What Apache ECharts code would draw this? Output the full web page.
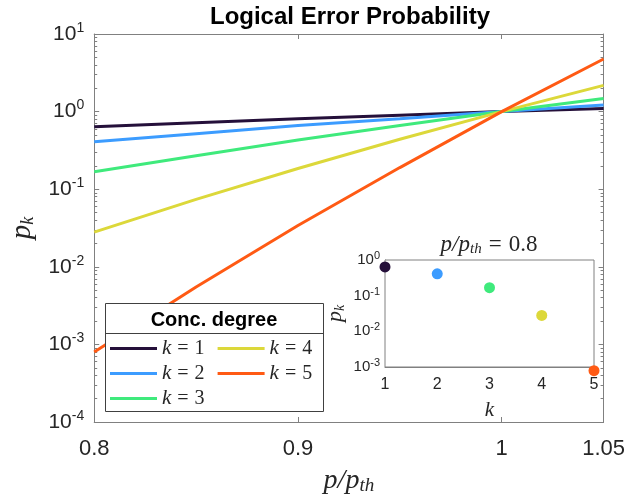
<!DOCTYPE html>
<html>
<head>
<meta charset="utf-8">
<script src="https://cdn.jsdelivr.net/npm/echarts@6/dist/echarts.min.js"></script>
<style>
html, body { margin: 0; padding: 0; background: #fff; }
#chart { width: 628px; height: 500px; }
</style>
</head>
<body>
<div id="chart"></div>
<script>
// ---- data ----
var ratio = [0.8, 0.85, 0.9, 0.95, 1.0, 1.05];
var pk1 = [0.64, 0.72, 0.81, 0.90, 1.0, 1.10];
var pk2 = [0.41, 0.52, 0.66, 0.81, 1.0, 1.22];
var pk3 = [0.168, 0.27, 0.43, 0.66, 1.0, 1.48];
var pk4 = [0.028, 0.074, 0.185, 0.44, 1.0, 2.18];
var pk5 = [0.0008, 0.0055, 0.034, 0.19, 1.0, 4.76];
var seriesNames = ['k = 1', 'k = 2', 'k = 3', 'k = 4', 'k = 5'];
var lineColors = ['#25103a', '#3c9cff', '#3fea7c', '#dcd83a', '#ff5a14'];

// inset: p_k at p/p_th = 0.8
var insetK = [1, 2, 3, 4, 5];
var insetP = [0.64, 0.41, 0.168, 0.028, 0.00079];

var axisGray = '#808080';
var labelColor = '#262626';
var serif = '"Liberation Serif", "DejaVu Serif", serif';
var sans = '"Liberation Sans", Arial, sans-serif';

function pow10(v) {
    var e = Math.round(Math.log10(v));
    return '{b|10}{e|' + (e < 0 ? '-' + (-e) : e) + '}';
}

var chart = echarts.init(document.getElementById('chart'));

function pairs(ys) {
    return ratio.map(function(x, i) { return [x, ys[i]]; });
}

var allPk = [pk1, pk2, pk3, pk4, pk5];
var series = allPk.map(function(ys, i) {
    return {
        name: seriesNames[i],
        type: 'line',
        xAxisIndex: 0,
        yAxisIndex: 0,
        data: pairs(ys),
        symbol: 'none',
        lineStyle: { width: 3, color: lineColors[i] },
        itemStyle: { color: lineColors[i] },
        z: 2
    };
});

series.push({
    name: 'inset',
    type: 'scatter',
    xAxisIndex: 2,
    yAxisIndex: 2,
    clip: false,
    symbolSize: 11,
    data: insetK.map(function(k, i) {
        return { value: [k, insetP[i]], itemStyle: { color: lineColors[i], opacity: 1 } };
    }),
    z: 6
});

var mainYRich = {
    b: { fontSize: 21, color: labelColor, fontFamily: sans },
    e: { fontSize: 14, color: labelColor, fontFamily: sans, verticalAlign: 'top', padding: [0, 0, 12, 0] }
};
var insetYRich = {
    b: { fontSize: 15, color: labelColor, fontFamily: sans },
    e: { fontSize: 11, color: labelColor, fontFamily: sans, verticalAlign: 'top', padding: [0, 0, 8, 0] }
};

var option = {
    backgroundColor: '#fff',
    animation: false,
    grid: [
        { left: 92, right: 21, top: 34, bottom: 76 },
        { left: 385, top: 260, width: 209, height: 107, show: true, backgroundColor: '#fff', borderColor: axisGray, borderWidth: 1, z: 5 }
    ],
    xAxis: [
        {
            type: 'value', gridIndex: 0, min: 0.8, max: 1.05, interval: 0.1,
            position: 'bottom',
            name: '{i|p}{i|/}{i|p}{s|th}',
            nameLocation: 'middle', nameGap: 44,
            nameTextStyle: {
                rich: {
                    i: { fontSize: 28, fontStyle: 'italic', fontFamily: serif, color: labelColor },
                    s: { fontSize: 19, fontStyle: 'italic', fontFamily: serif, color: labelColor, verticalAlign: 'bottom', padding: [10, 0, 0, 0] }
                }
            },
            axisLine: { lineStyle: { color: axisGray } },
            axisTick: { inside: true, length: 5, lineStyle: { color: axisGray } },
            axisLabel: { fontSize: 22, color: labelColor, fontFamily: sans, margin: 16,
                formatter: function(v) { return String(Math.round(v * 100) / 100); } },
            splitLine: { show: false }
        },
        {
            type: 'value', gridIndex: 0, min: 0.8, max: 1.05, interval: 0.1,
            position: 'top',
            axisLine: { lineStyle: { color: axisGray } },
            axisTick: { inside: true, length: 5, lineStyle: { color: axisGray } },
            axisLabel: { show: false },
            splitLine: { show: false }
        },
        {
            type: 'value', gridIndex: 1, min: 1, max: 5, interval: 1,
            name: 'k', nameLocation: 'middle', nameGap: 33,
            nameTextStyle: { fontSize: 21, fontStyle: 'italic', fontFamily: serif, color: labelColor },
            axisLine: { lineStyle: { color: axisGray } },
            axisTick: { show: false },
            axisLabel: { fontSize: 16, color: labelColor, fontFamily: sans, margin: 10 },
            splitLine: { show: false }
        }
    ],
    yAxis: [
        {
            type: 'log', logBase: 10, gridIndex: 0, min: 1e-4, max: 10,
            position: 'left',
            name: '{i|p}{s|k}',
            nameLocation: 'middle', nameGap: 56, nameRotate: 90,
            nameTextStyle: {
                rich: {
                    i: { fontSize: 29, fontStyle: 'italic', fontFamily: serif, color: labelColor },
                    s: { fontSize: 18, fontStyle: 'italic', fontFamily: serif, color: labelColor, verticalAlign: 'bottom', padding: [12, 0, 0, 0] }
                }
            },
            axisLine: { show: true, lineStyle: { color: axisGray } },
            axisTick: { inside: true, length: 5, lineStyle: { color: axisGray } },
            minorTick: { show: true, splitNumber: 9, length: 3, lineStyle: { color: axisGray } },
            axisLabel: { formatter: pow10, rich: mainYRich, margin: 10 },
            splitLine: { show: false }
        },
        {
            type: 'log', logBase: 10, gridIndex: 0, min: 1e-4, max: 10,
            position: 'right',
            axisLine: { show: true, lineStyle: { color: axisGray } },
            axisTick: { inside: true, length: 5, lineStyle: { color: axisGray } },
            minorTick: { show: true, splitNumber: 9, length: 3, lineStyle: { color: axisGray } },
            axisLabel: { show: false },
            splitLine: { show: false }
        },
        {
            type: 'log', logBase: 10, gridIndex: 1, min: 1e-3, max: 1,
            name: '{i|p}{s|k}',
            nameLocation: 'middle', nameGap: 38, nameRotate: 90,
            nameTextStyle: {
                rich: {
                    i: { fontSize: 22, fontStyle: 'italic', fontFamily: serif, color: labelColor },
                    s: { fontSize: 14, fontStyle: 'italic', fontFamily: serif, color: labelColor, verticalAlign: 'bottom', padding: [9, 0, 0, 0] }
                }
            },
            axisLine: { show: true, lineStyle: { color: axisGray } },
            axisTick: { show: false },
            axisLabel: { formatter: pow10, rich: insetYRich, margin: 5 },
            splitLine: { show: false }
        }
    ],
    legend: {
        data: ['k = 1', 'k = 4', 'k = 2', 'k = 5', 'k = 3'],
        left: 110, top: 338, width: 215,
        orient: 'horizontal',
        icon: 'rect',
        itemWidth: 47, itemHeight: 3, itemGap: 4,
        padding: 0,
        z: 10,
        formatter: function(name) {
            return '{i|k}{e|=}{n|' + name.split('= ')[1] + '}';
        },
        textStyle: {
            fontSize: 20, fontFamily: serif, color: labelColor, lineHeight: 16,
            rich: {
                i: { fontSize: 21, fontStyle: 'italic', fontFamily: serif, color: labelColor, lineHeight: 16 },
                e: { fontSize: 20, fontFamily: serif, color: labelColor, lineHeight: 16, padding: [0, 6, 0, 6] },
                n: { fontSize: 20, fontFamily: serif, color: labelColor, lineHeight: 16, padding: [0, 9, 0, 0] }
            }
        }
    },
    graphic: [
        {
            type: 'text', z: 10, x: 350, y: 17,
            style: { text: 'Logical Error Probability', fontSize: 24, fontWeight: 'bold', fontFamily: sans, fill: '#000', align: 'center', verticalAlign: 'middle' }
        },
        {
            type: 'rect', z: 8, shape: { x: 105.5, y: 303.5, width: 218, height: 108 },
            style: { fill: '#fff', stroke: '#404040', lineWidth: 1 }
        },
        {
            type: 'line', z: 9, shape: { x1: 105.5, y1: 333.5, x2: 323.5, y2: 333.5 },
            style: { stroke: '#404040', lineWidth: 1 }
        },
        {
            type: 'text', z: 9, x: 214, y: 320,
            style: { text: 'Conc. degree', fontSize: 20, fontWeight: 'bold', fontFamily: sans, fill: '#000', align: 'center', verticalAlign: 'middle' }
        },
        {
            type: 'text', z: 9, x: 489, y: 245,
            style: {
                text: '{i|p/p}{s|th}{e|=}{n|0.8}',
                align: 'center', verticalAlign: 'middle',
                rich: {
                    i: { fontSize: 23, fontStyle: 'italic', fontFamily: serif, fill: labelColor },
                    s: { fontSize: 15, fontStyle: 'italic', fontFamily: serif, fill: labelColor, verticalAlign: 'bottom', padding: [9, 0, 0, 0] },
                    e: { fontSize: 23, fontFamily: serif, fill: labelColor, padding: [0, 7, 0, 7] },
                    n: { fontSize: 23, fontFamily: serif, fill: labelColor }
                }
            }
        }
    ],
    series: series
};

chart.setOption(option);
</script>
</body>
</html>
